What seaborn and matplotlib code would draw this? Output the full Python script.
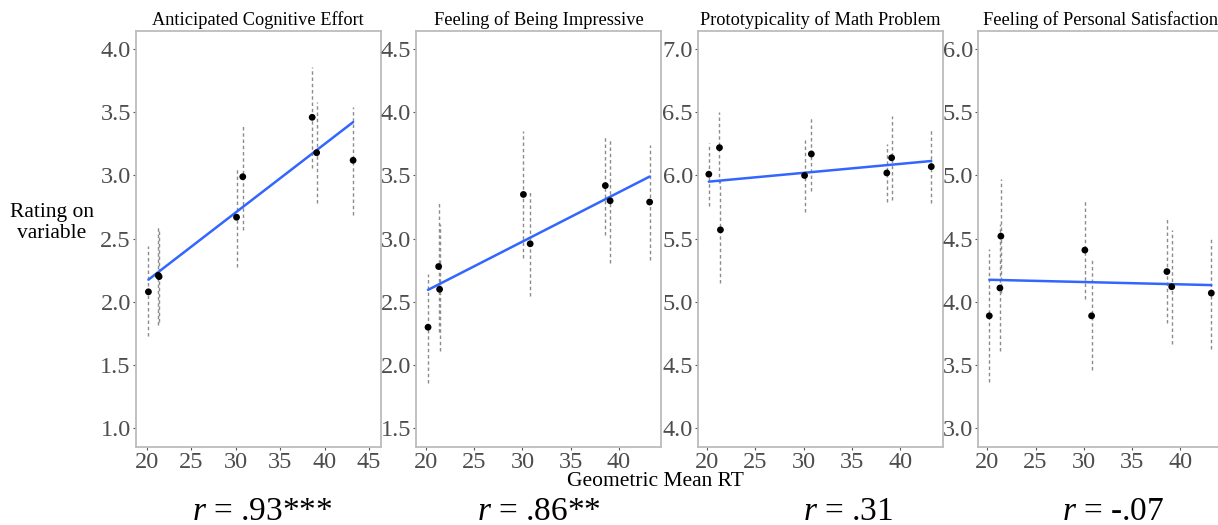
import numpy as np
import pandas as pd
import matplotlib
matplotlib.use("Agg")
import matplotlib.pyplot as plt
import seaborn as sns

# ---- data ----
rt = [20.2, 21.3, 21.4, 30.1, 30.8, 38.6, 39.1, 43.2]

titles = ["Anticipated Cognitive Effort", "Feeling of Being Impressive",
          "Prototypicality of Math Problem", "Feeling of Personal Satisfaction"]

effort_mean = [2.08, 2.21, 2.20, 2.67, 2.99, 3.46, 3.18, 3.12]
effort_lo = [1.73, 1.82, 1.84, 2.28, 2.57, 3.06, 2.78, 2.69]
effort_hi = [2.44, 2.59, 2.57, 3.05, 3.40, 3.86, 3.58, 3.54]

impress_mean = [2.30, 2.78, 2.60, 3.35, 2.96, 3.42, 3.30, 3.29]
impress_lo = [1.86, 2.26, 2.11, 2.85, 2.55, 3.03, 2.81, 2.83]
impress_hi = [2.72, 3.30, 3.12, 3.85, 3.37, 3.82, 3.79, 3.74]

proto_mean = [6.01, 6.22, 5.57, 6.00, 6.17, 6.02, 6.14, 6.07]
proto_lo = [5.76, 5.94, 5.15, 5.71, 5.88, 5.79, 5.81, 5.78]
proto_hi = [6.26, 6.50, 5.99, 6.28, 6.46, 6.25, 6.47, 6.36]

satis_mean = [3.89, 4.11, 4.52, 4.41, 3.89, 4.24, 4.12, 4.07]
satis_lo = [3.37, 3.61, 4.07, 4.02, 3.46, 3.83, 3.67, 3.63]
satis_hi = [4.42, 4.62, 4.97, 4.81, 4.33, 4.66, 4.57, 4.50]

y_ticks = [[1.0, 1.5, 2.0, 2.5, 3.0, 3.5, 4.0],
           [1.5, 2.0, 2.5, 3.0, 3.5, 4.0, 4.5],
           [4.0, 4.5, 5.0, 5.5, 6.0, 6.5, 7.0],
           [3.0, 3.5, 4.0, 4.5, 5.0, 5.5, 6.0]]
x_ticks = [[20, 25, 30, 35, 40, 45], [20, 25, 30, 35, 40],
           [20, 25, 30, 35, 40], [20, 25, 30, 35, 40]]
r_labels = [".93***", ".86**", ".31", "-.07"]

means = [effort_mean, impress_mean, proto_mean, satis_mean]
los = [effort_lo, impress_lo, proto_lo, satis_lo]
his = [effort_hi, impress_hi, proto_hi, satis_hi]

# ---- style ----
sns.set_theme(style="white")
plt.rcParams["font.family"] = ["Liberation Serif", "DejaVu Serif"]
plt.rcParams["mathtext.fontset"] = "custom"
plt.rcParams["mathtext.it"] = "Liberation Serif:italic"
plt.rcParams["mathtext.rm"] = "Liberation Serif"

W, H = 1218, 525
fig = plt.figure(figsize=(W / 100, H / 100), dpi=100)

lefts = [135.7, 416.0, 697.7, 977.7]
width = 245.0
top, bottom = 30.7, 446.7
xlims = [(18.77, 46.3), (18.95, 44.38), (19.05, 44.38), (19.0, 44.38)]
r_x = [262, 539, 848, 1113]

for i in range(4):
    ax = fig.add_axes([lefts[i] / W, 1 - bottom / H, width / W, (bottom - top) / H])
    df = pd.DataFrame({"rt": rt, "m": means[i], "lo": los[i], "hi": his[i]})
    # error bars (dashed grey)
    ax.vlines(df["rt"], df["lo"], df["hi"], colors="#8c8c8c", linestyles=(0, (2.5, 2)),
              linewidth=1.0, zorder=1)
    sns.regplot(data=df, x="rt", y="m", ax=ax, scatter=False, ci=None,
                line_kws=dict(color="#3366FF", lw=1.8, zorder=2), truncate=True)
    sns.scatterplot(data=df, x="rt", y="m", ax=ax, color="black", s=24,
                    edgecolor="none", zorder=3)
    yt = y_ticks[i]
    ax.set_ylim(yt[0] - 0.145, yt[-1] + 0.145)
    ax.set_xlim(*xlims[i])
    ax.set_yticks(yt)
    ax.set_yticklabels([f"{v:.1f}" for v in yt])
    ax.set_xticks(x_ticks[i])
    ax.set_xticklabels([str(v) for v in x_ticks[i]])
    ax.set_xlabel("")
    ax.set_ylabel("")
    ax.set_title(titles[i], fontsize=13.2, color="black", pad=4)
    for s in ax.spines.values():
        s.set_color("#bcbcbc")
        s.set_linewidth(1.3)
    ax.tick_params(axis="both", which="both", length=2.5, width=0.8, color="#555555",
                   labelsize=17.5, labelcolor="#4d4d4d", pad=1, left=True, bottom=True)
    ax.grid(False)
    fig.text(r_x[i] / W, 1 - 512 / H, "$r$ = " + r_labels[i], ha="center", va="center",
             fontsize=24, color="black")

fig.text(52 / W, 1 - 223 / H, "Rating on\nvariable", ha="center", va="center",
         fontsize=15.5, color="black", linespacing=1.1)
fig.text(655 / W, 1 - 481 / H, "Geometric Mean RT", ha="center", va="center",
         fontsize=15.5, color="black")

fig.savefig("out.png", dpi=100, facecolor="white")
